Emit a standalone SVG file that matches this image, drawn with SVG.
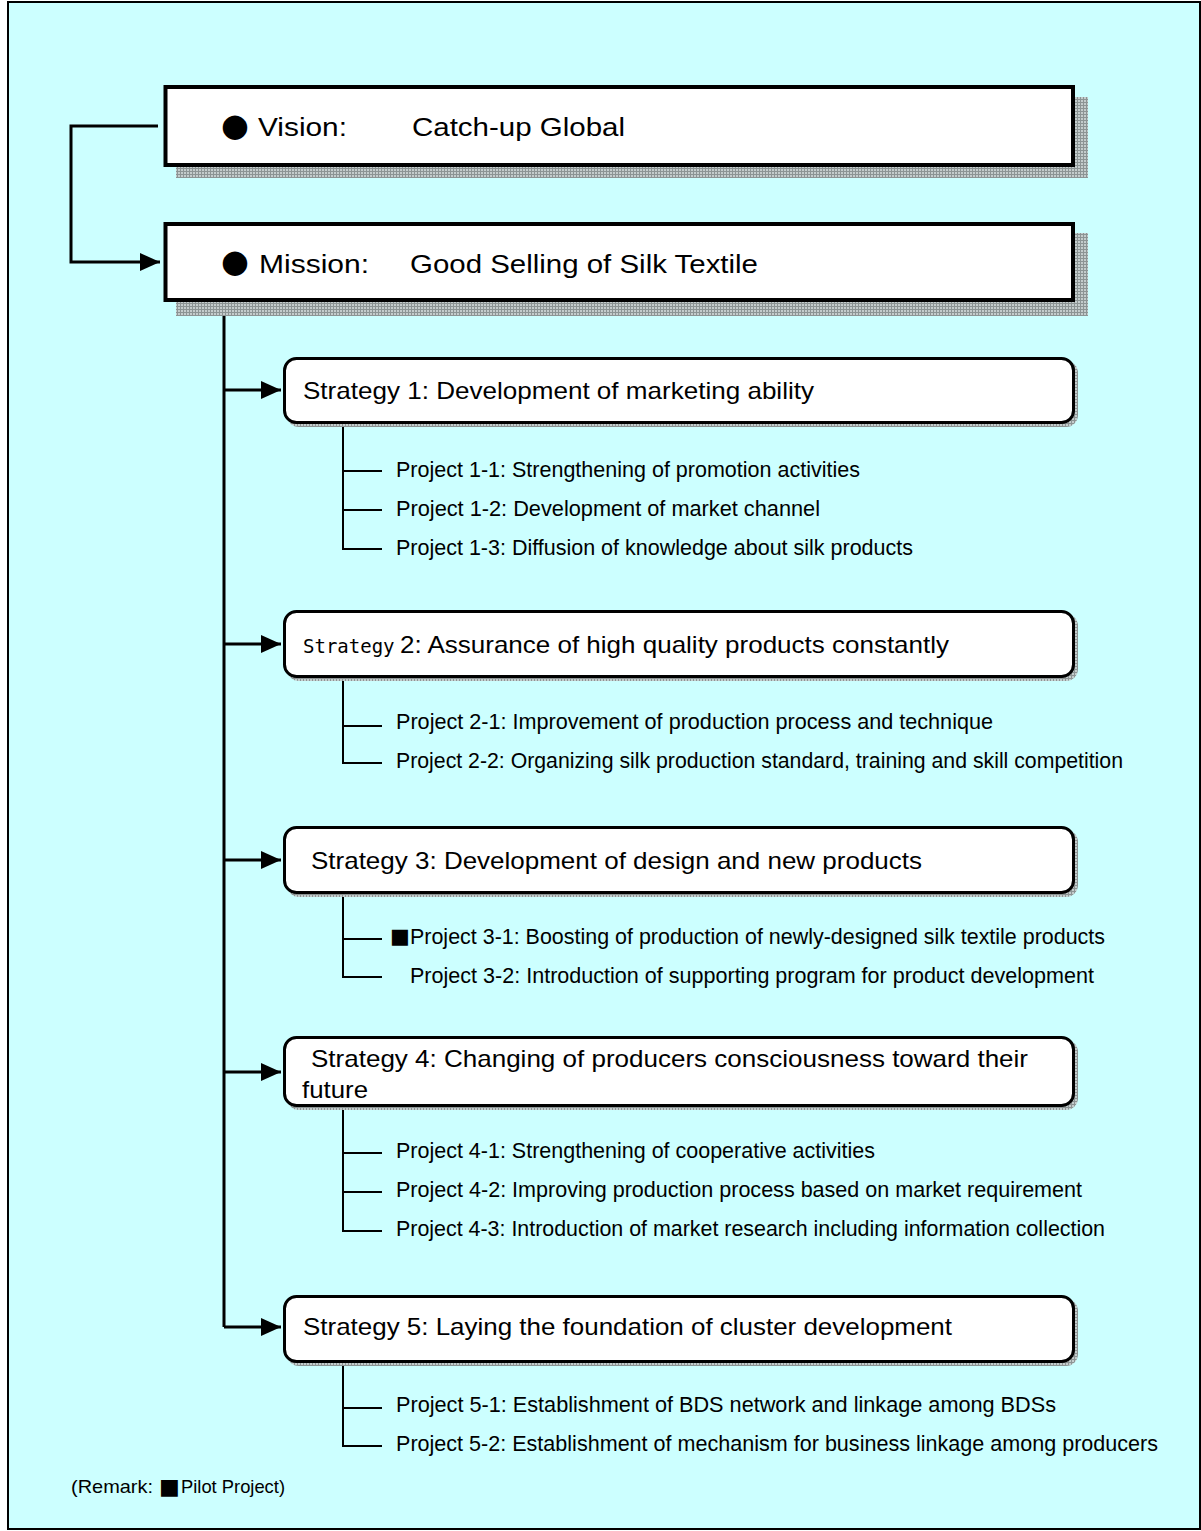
<svg xmlns="http://www.w3.org/2000/svg" width="1201" height="1531" viewBox="0 0 1201 1531">
<defs>
<pattern id="hatch" width="3" height="3" patternUnits="userSpaceOnUse">
<rect width="3" height="3" fill="#c4cccc"/>
<rect width="3" height="1" fill="#8c9494"/>
<rect width="1" height="3" fill="#8c9494"/>
</pattern>
<marker id="arr" viewBox="0 0 20 18" refX="20" refY="9" markerWidth="20" markerHeight="18" markerUnits="userSpaceOnUse" orient="auto">
<path d="M0,0 L20,9 L0,18 Z" fill="#000"/>
</marker>
<style>
.main{fill:#fff;stroke:#000;stroke-width:4}
.strat{fill:#fff;stroke:#000;stroke-width:3}
.shadow{fill:url(#hatch)}
.big{font-family:"Liberation Sans",Arial,sans-serif;font-size:26px;fill:#000}
.st{font-family:"Liberation Sans",Arial,sans-serif;font-size:24px;fill:#000}
.mono{font-family:"DejaVu Sans Mono","Liberation Mono",monospace;font-size:19px;fill:#000}
.pj{font-family:"Liberation Sans",Arial,sans-serif;font-size:22px;fill:#000}
.rm{font-family:"Liberation Sans",Arial,sans-serif;font-size:19px;fill:#000}
.sym{font-family:"DejaVu Sans",sans-serif;fill:#000}
.conn{fill:none;stroke:#000;stroke-width:3}
.sub{fill:none;stroke:#000;stroke-width:2}
</style>
</defs>
<rect x="0" y="0" width="1201" height="1531" fill="#fff"/>
<rect x="8" y="2" width="1192" height="1527" fill="#ccffff" stroke="#000" stroke-width="2"/>

<g id="connectors">
<path class="conn" d="M158,126 H71 V262 H160" marker-end="url(#arr)"/>
<path class="conn" d="M224,302 V1327"/>
<path class="conn" d="M224,390 H281" marker-end="url(#arr)"/>
<path class="conn" d="M224,644 H281" marker-end="url(#arr)"/>
<path class="conn" d="M224,860 H281" marker-end="url(#arr)"/>
<path class="conn" d="M224,1072 H281" marker-end="url(#arr)"/>
<path class="conn" d="M224,1327 H281" marker-end="url(#arr)"/>
<path class="sub" d="M343,424 V549 H382 M343,471 H382 M343,510 H382"/>
<path class="sub" d="M343,678 V763 H382 M343,726 H382"/>
<path class="sub" d="M343,894 V977 H382 M343,939 H382"/>
<path class="sub" d="M343,1107 V1231 H382 M343,1153 H382 M343,1192 H382"/>
<path class="sub" d="M343,1363 V1446 H382 M343,1408 H382"/>
</g>

<g id="vision">
<rect class="shadow" x="176" y="97" width="912" height="81"/>
<rect class="main" x="165.5" y="87" width="907.5" height="78"/>
<text class="sym" x="221" y="136" font-size="32">●</text>
<text class="big" x="258" y="136" textLength="89" lengthAdjust="spacingAndGlyphs">Vision:</text>
<text class="big" x="412" y="136" textLength="213" lengthAdjust="spacingAndGlyphs">Catch-up Global</text>
</g>

<g id="mission">
<rect class="shadow" x="176" y="233" width="912" height="83"/>
<rect class="main" x="165.5" y="224" width="907.5" height="76"/>
<text class="sym" x="221" y="272" font-size="32">●</text>
<text class="big" x="259" y="273" textLength="110" lengthAdjust="spacingAndGlyphs">Mission:</text>
<text class="big" x="410" y="273" textLength="348" lengthAdjust="spacingAndGlyphs">Good Selling of Silk Textile</text>
</g>

<g id="strategy1">
<rect class="shadow" x="287" y="361" width="791" height="66" rx="12"/>
<rect class="strat" x="284.5" y="358.5" width="789" height="64" rx="12"/>
<text class="st" x="303" y="399" textLength="511" lengthAdjust="spacingAndGlyphs">Strategy 1: Development of marketing ability</text>
</g>
<g id="project1-1"><text class="pj" x="396" y="477" textLength="464" lengthAdjust="spacingAndGlyphs">Project 1-1: Strengthening of promotion activities</text></g>
<g id="project1-2"><text class="pj" x="396" y="516" textLength="424" lengthAdjust="spacingAndGlyphs">Project 1-2: Development of market channel</text></g>
<g id="project1-3"><text class="pj" x="396" y="555" textLength="517" lengthAdjust="spacingAndGlyphs">Project 1-3: Diffusion of knowledge about silk products</text></g>

<g id="strategy2">
<rect class="shadow" x="287" y="614" width="791" height="67" rx="12"/>
<rect class="strat" x="284.5" y="611.5" width="789" height="65" rx="12"/>
<text class="mono" x="303" y="653">Strategy</text>
<text class="st" x="400" y="653" textLength="549" lengthAdjust="spacingAndGlyphs">2: Assurance of high quality products constantly</text>
</g>
<g id="project2-1"><text class="pj" x="396" y="729" textLength="597" lengthAdjust="spacingAndGlyphs">Project 2-1: Improvement of production process and technique</text></g>
<g id="project2-2"><text class="pj" x="396" y="768" textLength="727" lengthAdjust="spacingAndGlyphs">Project 2-2: Organizing silk production standard, training and skill competition</text></g>

<g id="strategy3">
<rect class="shadow" x="287" y="830" width="791" height="67" rx="12"/>
<rect class="strat" x="284.5" y="827.5" width="789" height="65" rx="12"/>
<text class="st" x="311" y="869" textLength="611" lengthAdjust="spacingAndGlyphs">Strategy 3: Development of design and new products</text>
</g>
<g id="project3-1">
<text class="sym" x="390" y="943" font-size="21">■</text>
<text class="pj" x="410" y="944" textLength="695" lengthAdjust="spacingAndGlyphs">Project 3-1: Boosting of production of newly-designed silk textile products</text>
</g>
<g id="project3-2"><text class="pj" x="410" y="983" textLength="684" lengthAdjust="spacingAndGlyphs">Project 3-2: Introduction of supporting program for product development</text></g>

<g id="strategy4">
<rect class="shadow" x="287" y="1040" width="791" height="70" rx="12"/>
<rect class="strat" x="284.5" y="1037.5" width="789" height="68" rx="12"/>
<text class="st" x="311" y="1067" textLength="717" lengthAdjust="spacingAndGlyphs">Strategy 4: Changing of producers consciousness toward their</text>
<text class="st" x="302" y="1098" textLength="66" lengthAdjust="spacingAndGlyphs">future</text>
</g>
<g id="project4-1"><text class="pj" x="396" y="1158" textLength="479" lengthAdjust="spacingAndGlyphs">Project 4-1: Strengthening of cooperative activities</text></g>
<g id="project4-2"><text class="pj" x="396" y="1197" textLength="686" lengthAdjust="spacingAndGlyphs">Project 4-2: Improving production process based on market requirement</text></g>
<g id="project4-3"><text class="pj" x="396" y="1236" textLength="709" lengthAdjust="spacingAndGlyphs">Project 4-3: Introduction of market research including information collection</text></g>

<g id="strategy5">
<rect class="shadow" x="287" y="1299" width="791" height="67" rx="12"/>
<rect class="strat" x="284.5" y="1296.5" width="789" height="65" rx="12"/>
<text class="st" x="303" y="1335" textLength="649" lengthAdjust="spacingAndGlyphs">Strategy 5: Laying the foundation of cluster development</text>
</g>
<g id="project5-1"><text class="pj" x="396" y="1412" textLength="660" lengthAdjust="spacingAndGlyphs">Project 5-1: Establishment of BDS network and linkage among BDSs</text></g>
<g id="project5-2"><text class="pj" x="396" y="1451" textLength="762" lengthAdjust="spacingAndGlyphs">Project 5-2: Establishment of mechanism for business linkage among producers</text></g>

<g id="remark">
<text class="rm" x="71" y="1493" textLength="82" lengthAdjust="spacingAndGlyphs">(Remark:</text>
<text class="sym" x="159" y="1494" font-size="22">■</text>
<text class="rm" x="181" y="1493" textLength="104" lengthAdjust="spacingAndGlyphs">Pilot Project)</text>
</g>
</svg>
